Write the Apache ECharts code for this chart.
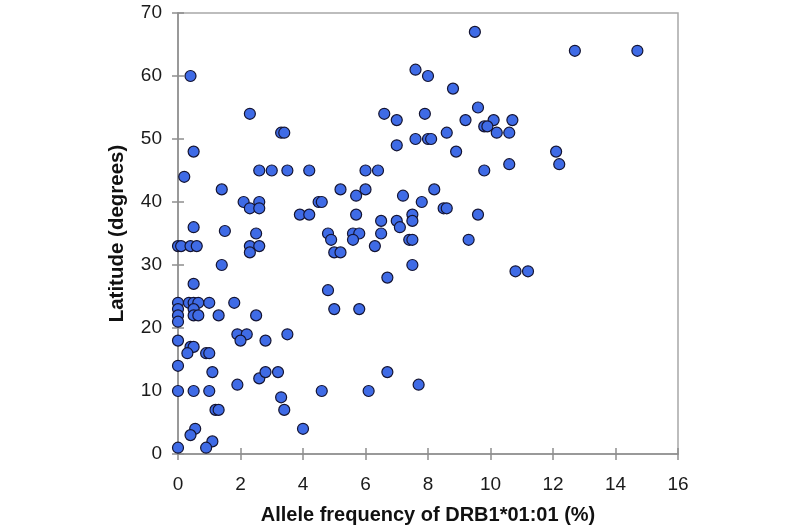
<!DOCTYPE html>
<html lang="en">

<head>
    <meta charset="UTF-8">
    <script type="text/javascript" src="https://cdn.jsdelivr.net/npm/echarts@6/dist/echarts.min.js"></script>
    <title>DRB1*01:01 vs latitude</title>
    <style>
        html, body { margin: 0; padding: 0; background: #fff; }
    </style>
</head>

<body>
    <div id="container" style="width: 800px; height: 530px"></div>
</body>
<script type="text/javascript">
    // allele frequency (%) and latitude (degrees)
    var allele = [
        0.4, 2.3, 3.3, 3.4, 0.5, 0.2, 2.6, 3.0, 3.5, 4.2,
        1.4, 5.2, 2.1, 2.6, 2.3, 2.6, 4.5, 4.6, 3.9, 4.2,
        0.5, 1.5, 2.5, 4.8, 4.9, 5.0, 5.2, 0.0, 0.1, 0.4,
        0.6, 2.3, 2.3, 2.6, 1.4, 0.5, 4.8, 5.0, 0.0, 0.0,
        0.0, 0.0, 0.35, 0.5, 0.65, 0.5, 0.5, 0.65, 1.0, 1.8,
        1.3, 2.5, 0.0, 1.9, 2.2, 2.0, 2.8, 3.5, 0.4, 0.5,
        0.3, 0.9, 1.0, 0.0, 1.1, 2.6, 2.8, 3.2, 0.0, 0.5,
        1.0, 1.9, 4.6, 3.3, 1.2, 1.3, 3.4, 0.55, 0.4, 4.0,
        1.1, 0.9, 0.0, 9.5, 7.6, 8.0, 8.8, 9.6, 6.6, 7.9,
        7.0, 9.2, 10.1, 10.7, 9.8, 9.9, 10.2, 10.6, 8.6, 7.0,
        7.6, 8.0, 8.1, 8.9, 9.8, 6.0, 6.4, 5.7, 6.0, 7.2,
        8.2, 7.8, 5.7, 8.5, 8.6, 9.6, 7.5, 6.5, 7.0, 7.5,
        7.1, 5.6, 5.8, 6.5, 5.6, 7.4, 7.5, 9.3, 6.3, 7.5,
        6.7, 5.8, 6.7, 6.1, 7.7, 12.7, 14.7, 12.1, 12.2, 10.6,
        10.8, 11.2
    ];
    var latitude = [
        60, 54, 51, 51, 48, 44, 45, 45, 45, 45,
        42, 42, 40, 40, 39, 39, 40, 40, 38, 38,
        36, 35.4, 35, 35, 34, 32, 32, 33, 33, 33,
        33, 33, 32, 33, 30, 27, 26, 23, 24, 23,
        22, 21, 24, 24, 24, 23, 22, 22, 24, 24,
        22, 22, 18, 19, 19, 18, 18, 19, 17, 17,
        16, 16, 16, 14, 13, 12, 13, 13, 10, 10,
        10, 11, 10, 9, 7, 7, 7, 4, 3, 4,
        2, 1, 1, 67, 61, 60, 58, 55, 54, 54,
        53, 53, 53, 53, 52, 52, 51, 51, 51, 49,
        50, 50, 50, 48, 45, 45, 45, 41, 42, 41,
        42, 40, 38, 39, 39, 38, 38, 37, 37, 37,
        36, 35, 35, 35, 34, 34, 34, 34, 33, 30,
        28, 23, 13, 10, 11, 64, 64, 48, 46, 46,
        29, 29
    ];

    var xTitle = 'Allele frequency of DRB1*01:01 (%)';
    var yTitle = 'Latitude (degrees)';

    var points = allele.map(function (x, i) { return [x, latitude[i]]; });

    var axisGrey = '#8e8e8e';
    var font = 'Liberation Sans, Arial, sans-serif';

    var dom = document.getElementById('container');
    var myChart = echarts.init(dom, null, { renderer: 'canvas' });

    myChart.setOption({
        animation: false,
        grid: {
            left: 178,
            right: 122,
            top: 13,
            bottom: 71,
            show: true,
            borderColor: '#a8a8a8',
            borderWidth: 1.5
        },
        xAxis: [{
            type: 'value',
            min: 0,
            max: 16,
            interval: 2,
            splitLine: { show: false },
            axisLine: { lineStyle: { color: axisGrey, width: 1.5 } },
            axisTick: { length: 6, lineStyle: { color: axisGrey, width: 1.5 } },
            axisLabel: { color: '#1a1a1a', fontSize: 19, fontFamily: font, margin: 21 },
            name: xTitle,
            nameLocation: 'middle',
            nameGap: 51,
            nameTextStyle: { color: '#111', fontSize: 20, fontWeight: 'bold', fontFamily: font }
        }, {
            // inner half of the crossing ticks
            type: 'value',
            position: 'bottom',
            min: 0,
            max: 16,
            interval: 2,
            splitLine: { show: false },
            axisLine: { show: false },
            axisTick: { inside: true, length: 6, lineStyle: { color: axisGrey, width: 1.5 } },
            axisLabel: { show: false }
        }],
        yAxis: [{
            type: 'value',
            min: 0,
            max: 70,
            interval: 10,
            splitLine: { show: false },
            axisLine: { lineStyle: { color: axisGrey, width: 1.5 } },
            axisTick: { length: 6, lineStyle: { color: axisGrey, width: 1.5 } },
            axisLabel: { color: '#1a1a1a', fontSize: 19, fontFamily: font, margin: 16 },
            name: yTitle,
            nameLocation: 'middle',
            nameGap: 50,
            nameTextStyle: { color: '#111', fontSize: 20.5, fontWeight: 'bold', fontFamily: font }
        }, {
            type: 'value',
            position: 'left',
            min: 0,
            max: 70,
            interval: 10,
            splitLine: { show: false },
            axisLine: { show: false },
            axisTick: { inside: true, length: 6, lineStyle: { color: axisGrey, width: 1.5 } },
            axisLabel: { show: false }
        }],
        series: [{
            type: 'scatter',
            data: points,
            symbol: 'circle',
            symbolSize: 11,
            itemStyle: {
                color: '#3f6be6',
                borderColor: '#141432',
                borderWidth: 1.2,
                opacity: 1
            }
        }]
    });

    window.addEventListener('resize', myChart.resize);
</script>

</html>
